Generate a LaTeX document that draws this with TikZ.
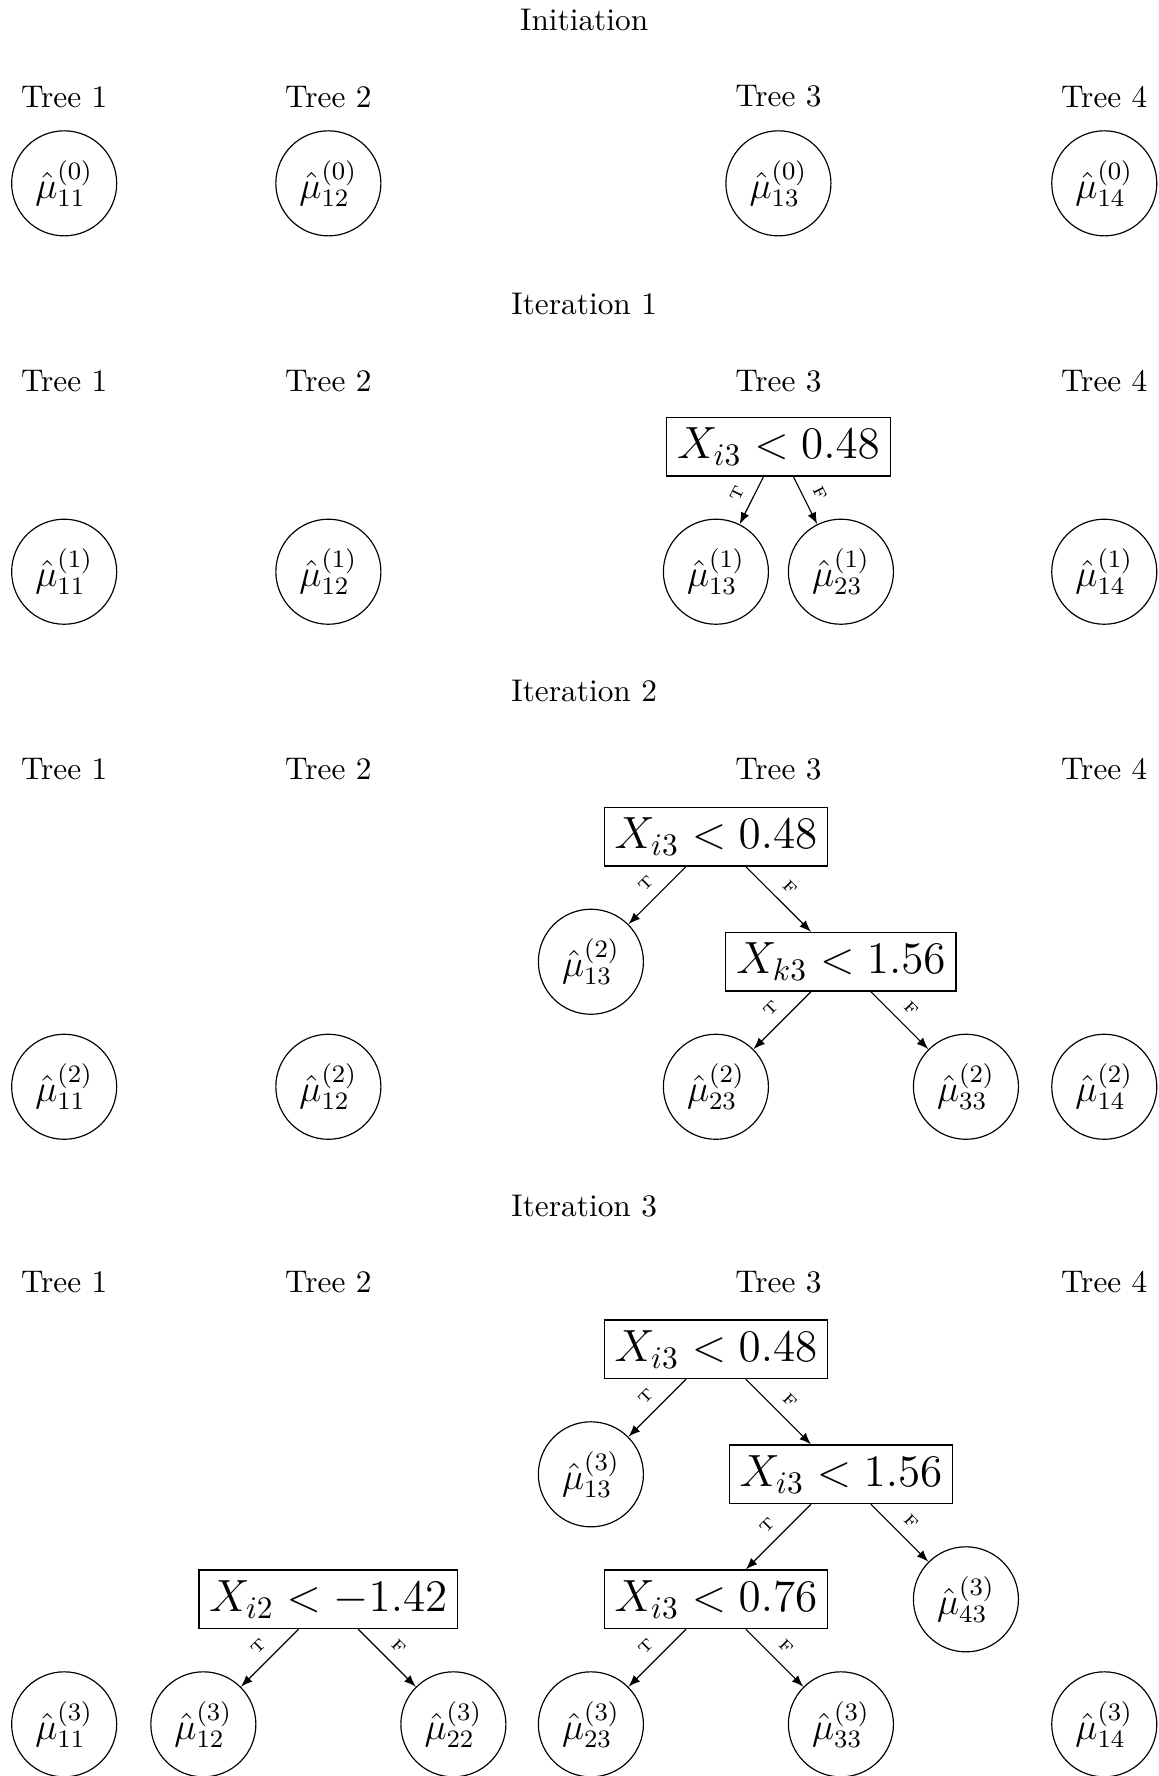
\documentclass[tikz,border=0pt]{standalone}
\usetikzlibrary{positioning,arrows}
\tikzstyle{every node} = [scale=1.07]
\tikzstyle{leaf} = [draw,circle,minimum size=1.178cm,inner sep=0pt,font=\large]
\tikzstyle{splitbox} = [draw,rectangle,font=\Large]
\tikzstyle{tf} = [midway,above,sloped,font=\tiny]

\begin{document}
\begin{tikzpicture}[>=latex]
\useasboundingbox (0,0) rectangle (13.9,-21.31);

    % Initiation
    \node (ti0) at (7.01,-0.24) {Initiation};
    \node (tr01) at (0.77,-1.16) {Tree 1};
    \node (tr02) at (3.94,-1.16) {Tree 2};
    \node (tr03) at (9.34,-1.16) {Tree 3};
    \node (tr04) at (13.25,-1.16) {Tree 4};
    \node[leaf] (m0a) at (0.77,-2.2) {$\hat{\mu}_{11}^{(0)}$};
    \node[leaf] (m0b) at (3.94,-2.2) {$\hat{\mu}_{12}^{(0)}$};
    \node[leaf] (m0c) at (9.34,-2.2) {$\hat{\mu}_{13}^{(0)}$};
    \node[leaf] (m0d) at (13.25,-2.2) {$\hat{\mu}_{14}^{(0)}$};

    % Iteration 1
    \node (ti1) at (7.01,-3.65) {Iteration 1};
    \node (tr11) at (0.77,-4.57) {Tree 1};
    \node (tr12) at (3.94,-4.57) {Tree 2};
    \node (tr13) at (9.34,-4.57) {Tree 3};
    \node (tr14) at (13.25,-4.57) {Tree 4};
    \node[splitbox] (s1a) at (9.34,-5.36) {$X_{i3} < 0.48$};
    \node[leaf] (m1a) at (0.77,-6.86) {$\hat{\mu}_{11}^{(1)}$};
    \node[leaf] (m1b) at (3.94,-6.86) {$\hat{\mu}_{12}^{(1)}$};
    \node[leaf] (m1c) at (8.59,-6.86) {$\hat{\mu}_{13}^{(1)}$};
    \node[leaf] (m1d) at (10.09,-6.86) {$\hat{\mu}_{23}^{(1)}$};
    \node[leaf] (m1e) at (13.25,-6.86) {$\hat{\mu}_{14}^{(1)}$};
    \draw[->] (s1a) -- node[tf] {T} (m1c);
    \draw[->] (s1a) -- node[tf] {F} (m1d);

    % Iteration 2
    \node (ti2) at (7.01,-8.29) {Iteration 2};
    \node (tr21) at (0.77,-9.23) {Tree 1};
    \node (tr22) at (3.94,-9.23) {Tree 2};
    \node (tr23) at (9.34,-9.23) {Tree 3};
    \node (tr24) at (13.25,-9.23) {Tree 4};
    \node[splitbox] (s2a) at (8.59,-10.04) {$X_{i3} < 0.48$};
    \node[leaf] (m2c) at (7.09,-11.54) {$\hat{\mu}_{13}^{(2)}$};
    \node[splitbox] (s2b) at (10.09,-11.54) {$X_{k3} < 1.56$};
    \node[leaf] (m2a) at (0.77,-13.04) {$\hat{\mu}_{11}^{(2)}$};
    \node[leaf] (m2b) at (3.94,-13.04) {$\hat{\mu}_{12}^{(2)}$};
    \node[leaf] (m2d) at (8.59,-13.04) {$\hat{\mu}_{23}^{(2)}$};
    \node[leaf] (m2e) at (11.59,-13.04) {$\hat{\mu}_{33}^{(2)}$};
    \node[leaf] (m2f) at (13.25,-13.04) {$\hat{\mu}_{14}^{(2)}$};
    \draw[->] (s2a) -- node[tf] {T} (m2c);
    \draw[->] (s2a) -- node[tf] {F} (s2b);
    \draw[->] (s2b) -- node[tf] {T} (m2d);
    \draw[->] (s2b) -- node[tf] {F} (m2e);

    % Iteration 3
    \node (ti3) at (7.01,-14.47) {Iteration 3};
    \node (tr31) at (0.77,-15.38) {Tree 1};
    \node (tr32) at (3.94,-15.38) {Tree 2};
    \node (tr33) at (9.34,-15.38) {Tree 3};
    \node (tr34) at (13.25,-15.38) {Tree 4};
    \node[splitbox] (s3a) at (8.59,-16.19) {$X_{i3} < 0.48$};
    \node[leaf] (m3c) at (7.09,-17.69) {$\hat{\mu}_{13}^{(3)}$};
    \node[splitbox] (s3b) at (10.09,-17.69) {$X_{i3} < 1.56$};
    \node[splitbox] (s3c) at (8.59,-19.19) {$X_{i3} < 0.76$};
    \node[leaf] (m3g) at (11.59,-19.19) {$\hat{\mu}_{43}^{(3)}$};
    \node[splitbox] (s3d) at (3.94,-19.19) {$X_{i2} < -1.42$};
    \node[leaf] (m3a) at (0.77,-20.69) {$\hat{\mu}_{11}^{(3)}$};
    \node[leaf] (m3b) at (2.44,-20.69) {$\hat{\mu}_{12}^{(3)}$};
    \node[leaf] (m3d) at (5.44,-20.69) {$\hat{\mu}_{22}^{(3)}$};
    \node[leaf] (m3e) at (7.09,-20.69) {$\hat{\mu}_{23}^{(3)}$};
    \node[leaf] (m3f) at (10.09,-20.69) {$\hat{\mu}_{33}^{(3)}$};
    \node[leaf] (m3h) at (13.25,-20.69) {$\hat{\mu}_{14}^{(3)}$};
    \draw[->] (s3a) -- node[tf] {T} (m3c);
    \draw[->] (s3a) -- node[tf] {F} (s3b);
    \draw[->] (s3b) -- node[tf] {T} (s3c);
    \draw[->] (s3b) -- node[tf] {F} (m3g);
    \draw[->] (s3c) -- node[tf] {T} (m3e);
    \draw[->] (s3c) -- node[tf] {F} (m3f);
    \draw[->] (s3d) -- node[tf] {T} (m3b);
    \draw[->] (s3d) -- node[tf] {F} (m3d);

\end{tikzpicture}
\end{document}
